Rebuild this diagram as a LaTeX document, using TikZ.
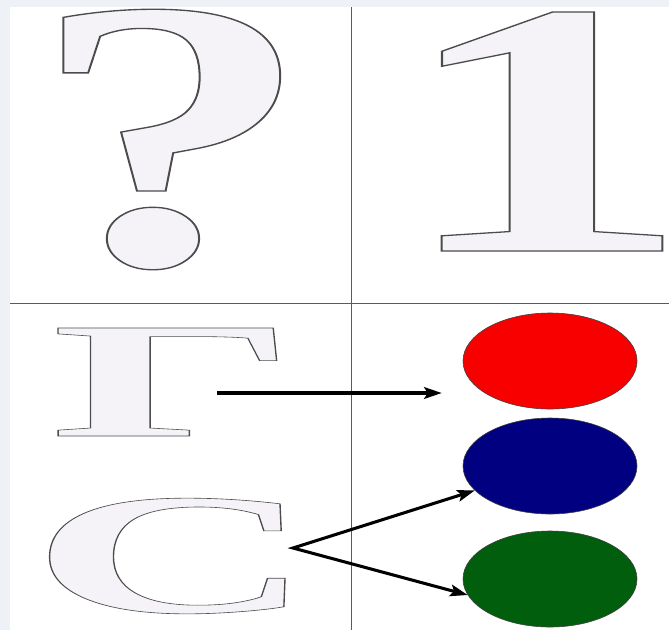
\documentclass[tikz,border=0pt]{standalone}
\usepackage{fontspec}
\usepackage{graphicx}
\usepackage{xcolor}
\usepackage{tikz}
\usetikzlibrary{shapes.geometric,arrows.meta}
\newfontfamily\glyphfont{Liberation Serif}
\definecolor{cardbg}{HTML}{EEF1F5}
\definecolor{gridgray}{HTML}{5A5A5A}
\definecolor{spotred}{HTML}{F80000}
\definecolor{spotblue}{HTML}{000080}
\definecolor{spotgreen}{HTML}{005E0C}
% hollow letter: pale fill, grey stroke, squeezed into a w x h box
\newcommand{\hollow}[3]{\resizebox{#1}{#2}{\special{pdf:literal direct 2 Tr 0.35 w 0.3 0.3 0.3 RG 0.961 0.953 0.973 rg}{\glyphfont\bfseries\fontsize{100}{100}\selectfont #3}\special{pdf:literal direct 0 Tr}}}

\begin{document}
\begin{tikzpicture}[x=0.03cm, y=-0.03cm,
  glyph/.style={inner sep=0pt, outer sep=0pt},
  spot/.style={ellipse, draw=black!75, line width=0.5pt,
    minimum width=5.22cm, minimum height=2.88cm, inner sep=0pt},
  pointer/.tip={Stealth[length=15pt, width=10pt, inset=3pt]},
  link/.style={line width=2.6pt, line join=miter}]
  % pale margin and white card
  \fill[cardbg] (0,0) rectangle (669,630);
  \fill[white] (10,7) rectangle (669,630);
  \useasboundingbox (0,0) rectangle (669,630);
  % the cross that cuts the card in four
  \draw[gridgray, line width=0.6pt] (351,7) -- (351,630);
  \draw[gridgray, line width=0.6pt] (10,303) -- (669,303);
  % hollow letters (widths pad out the side bearings)
  \node[glyph] (qmark) at (171.5,139.5) {\hollow{8.56cm}{7.65cm}{?}};
  \node[glyph] (one) at (543.5,131.5) {\hollow{8.99cm}{7.17cm}{1}};
  \node[glyph] (ge) at (174.3,382) {\hollow{7.4cm}{3.24cm}{Г}};
  \node[glyph] (es) at (172.7,556) {\hollow{8.54cm}{3.42cm}{С}};
  % colour spots
  \node[spot, fill=spotred] (redspot) at (550,361) {};
  \node[spot, fill=spotblue] (bluespot) at (550,466) {};
  \node[spot, fill=spotgreen] (greenspot) at (550,579) {};
  % arrows
  \coordinate (gtail) at (217,393);
  \coordinate (capex) at (293,548);
  \draw[link, -{pointer}, shorten >=0.63cm] (gtail) -- (gtail -| redspot.west);
  \draw[link, {pointer}-{pointer}] (bluespot.198) -- (capex) -- (greenspot.191);
\end{tikzpicture}
\end{document}
